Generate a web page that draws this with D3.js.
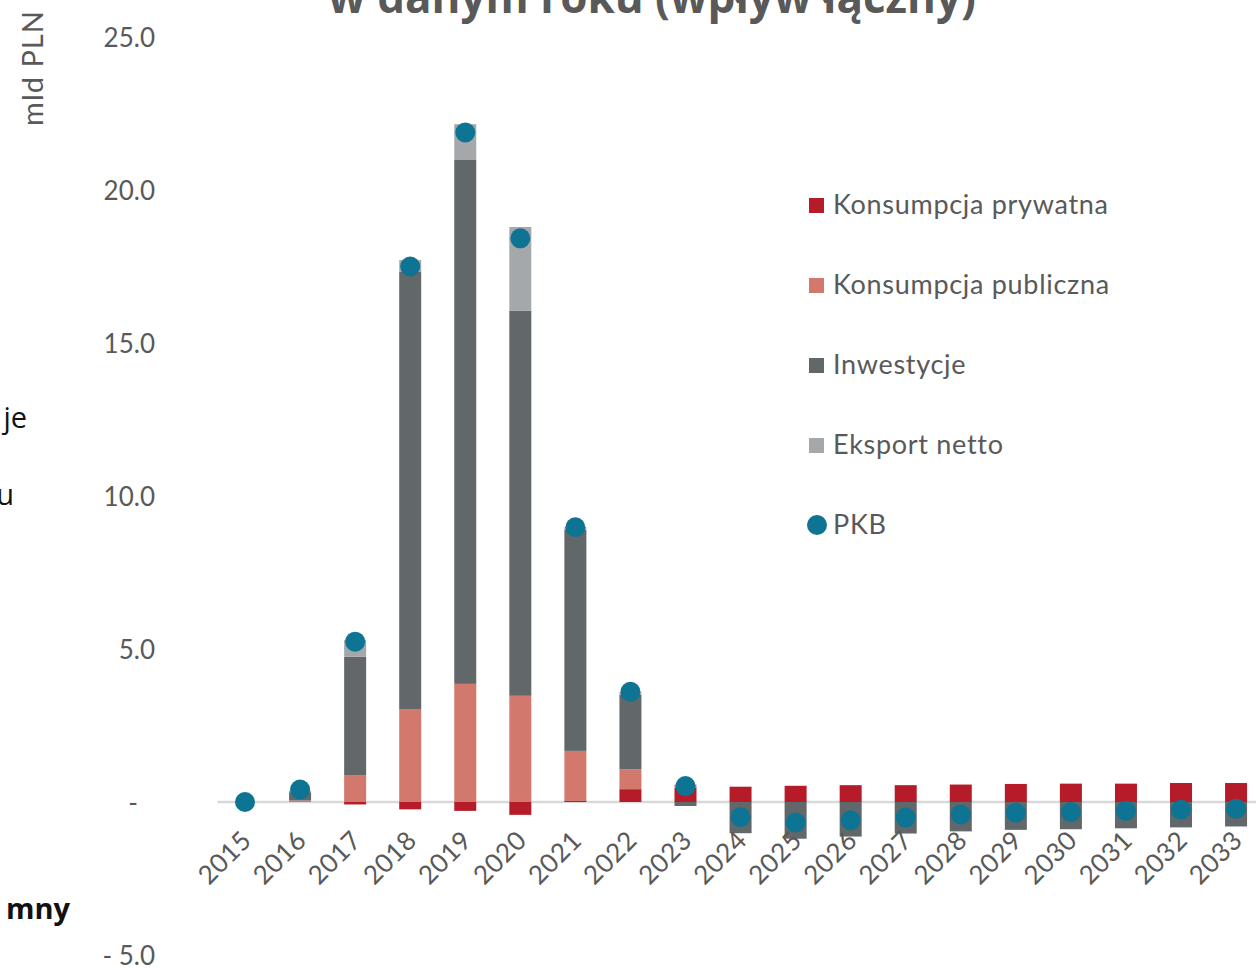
<!DOCTYPE html>
<html>
<head>
<meta charset="utf-8">
<script src="https://cdn.jsdelivr.net/npm/d3@7"></script>
<style>
	body { margin: 0; background: #fff; }
	svg text { font-family: Lato, "Open Sans", sans-serif; }
</style>
</head>
<body>
<div id="chart"></div>
<script>
// dane (mld PLN)
const years     = ["2015","2016","2017","2018","2019","2020","2021","2022","2023","2024","2025","2026","2027","2028","2029","2030","2031","2032","2033"];
const konsPryw  = [0, 0, -0.08, -0.24, -0.29, -0.42, 0.05, 0.42, 0.47, 0.50, 0.53, 0.55, 0.55, 0.57, 0.59, 0.60, 0.60, 0.62, 0.62];
const konsPubl  = [0, 0.05, 0.88, 3.04, 3.86, 3.47, 1.62, 0.65, 0.10, 0, 0, 0, 0, 0, 0, 0, 0, 0, 0];
const inwest    = [0, 0.27, 3.87, 14.28, 17.12, 12.58, 7.23, 2.44, -0.13, -1.02, -1.20, -1.13, -1.03, -0.96, -0.91, -0.89, -0.86, -0.83, -0.80];
const eksport   = [0, 0.05, 0.55, 0.39, 1.17, 2.74, 0.08, 0.08, 0, 0, 0, 0, 0, 0, 0, 0, 0, 0, 0];
const pkb       = [0, 0.41, 5.24, 17.50, 21.88, 18.42, 8.98, 3.60, 0.52, -0.50, -0.67, -0.60, -0.51, -0.41, -0.35, -0.33, -0.29, -0.25, -0.22];
const yTicks    = [-5, 0, 5, 10, 15, 20, 25];

const seriesNames = ["Konsumpcja prywatna", "Konsumpcja publiczna", "Inwestycje", "Eksport netto"];
const palette = {
	"Konsumpcja prywatna": "#b51b29",
	"Konsumpcja publiczna": "#d3786c",
	"Inwestycje": "#626769",
	"Eksport netto": "#a5a8ab",
	"PKB": "#0e7493"
};

let canvasWidth = 1256, canvasHeight = 968;

let svg = d3.select("#chart").append("svg")
	.attr("width", canvasWidth)
	.attr("height", canvasHeight);

let table = years.map((yr, i) => ({
	year: yr,
	"Konsumpcja prywatna": konsPryw[i],
	"Konsumpcja publiczna": konsPubl[i],
	"Inwestycje": inwest[i],
	"Eksport netto": eksport[i],
	pkb: pkb[i]
}));

let x = d3.scaleBand().domain(years).range([217.5, 1263.6]).padding(0);
let y = d3.scaleLinear().domain([-5, 25]).range([955, 37]);
let barW = 22;

// tytuł (ucięty u góry)
svg.append("text")
	.attr("x", 652).attr("y", 13)
	.attr("text-anchor", "middle")
	.attr("font-size", 44).attr("font-weight", "bold")
	.attr("fill", "#595959")
	.style("font-family", "'Open Sans', sans-serif")
	.text("w danym roku (wpływ łączny)");

// ucięty tekst z lewej strony
svg.append("text").attr("x", 27).attr("y", 428).attr("text-anchor", "end")
	.attr("font-size", 29).attr("fill", "#111").style("font-family", "'Open Sans', sans-serif").text("je");
svg.append("text").attr("x", 14).attr("y", 505).attr("text-anchor", "end")
	.attr("font-size", 29).attr("fill", "#111").style("font-family", "'Open Sans', sans-serif").text("u");
svg.append("text").attr("x", 70).attr("y", 919).attr("text-anchor", "end")
	.attr("font-size", 29).attr("font-weight", "bold").attr("fill", "#111").style("font-family", "'Open Sans', sans-serif").text("mny");

// etykieta osi Y
svg.append("text")
	.attr("transform", "translate(43,68) rotate(-90)")
	.attr("text-anchor", "middle")
	.attr("font-size", 29).attr("fill", "#595959")
	.style("letter-spacing", "1px")
	.text("mld PLN");

// oś Y (tylko etykiety)
let fmt = (v) => v === 0 ? "-" : (v < 0 ? "- " + d3.format(".1f")(-v) : d3.format(".1f")(v));
let yAxis = svg.append("g")
	.attr("transform", "translate(155,0)")
	.call(d3.axisLeft(y).tickValues(yTicks).tickFormat(fmt).tickSize(0).tickPadding(0));
yAxis.select(".domain").remove();
yAxis.selectAll(".tick text")
	.attr("font-size", 26).attr("fill", "#595959")
	.style("font-family", "Lato, sans-serif")
	.attr("dy", "0.35em");
yAxis.selectAll(".tick").filter((d) => d === 0).select("text").attr("x", -17);

// linia zera
svg.append("line")
	.attr("x1", 217.5).attr("x2", canvasWidth)
	.attr("y1", y(0)).attr("y2", y(0))
	.attr("stroke", "#d9d9d9").attr("stroke-width", 2.5);

// słupki skumulowane
let stack = d3.stack().keys(seriesNames).offset(d3.stackOffsetDiverging);
let stacked = stack(table);

svg.append("g").attr("class", "bars")
	.selectAll("g").data(stacked).enter().append("g")
	.attr("fill", (s) => palette[s.key])
	.selectAll("rect").data((s) => s).enter().append("rect")
	.attr("x", (d) => x(d.data.year) + x.bandwidth() / 2 - barW / 2)
	.attr("width", barW)
	.attr("y", (d) => y(Math.max(d[0], d[1])))
	.attr("height", (d) => Math.abs(y(d[0]) - y(d[1])));

// PKB
svg.append("g").attr("class", "pkb")
	.selectAll("circle").data(table).enter().append("circle")
	.attr("cx", (d) => x(d.year) + x.bandwidth() / 2)
	.attr("cy", (d) => y(d.pkb))
	.attr("r", 10)
	.attr("fill", palette["PKB"]);

// oś X
let xAxis = svg.append("g")
	.attr("transform", "translate(0," + y(0) + ")")
	.call(d3.axisBottom(x).tickSize(0).tickPadding(0));
xAxis.select(".domain").remove();
xAxis.selectAll(".tick text")
	.attr("font-size", 26).attr("fill", "#595959")
	.style("font-family", "Lato, sans-serif")
	.style("letter-spacing", "0.5px")
	.attr("text-anchor", "end")
	.attr("dy", 0).attr("y", 0)
	.attr("transform", "translate(8,40) rotate(-45)");

// legenda
let legendItems = seriesNames.concat(["PKB"]);
let legend = svg.append("g").attr("class", "legend")
	.selectAll("g").data(legendItems).enter().append("g")
	.attr("transform", (d, i) => "translate(809," + (205 + i * 80) + ")");

legend.filter((d) => d !== "PKB").append("rect")
	.attr("x", 0).attr("y", -7).attr("width", 15).attr("height", 15)
	.attr("fill", (d) => palette[d]);
legend.filter((d) => d === "PKB").append("circle")
	.attr("cx", 8).attr("cy", 0).attr("r", 10)
	.attr("fill", palette["PKB"]);
legend.append("text")
	.attr("x", 24).attr("y", 0).attr("dy", "0.35em")
	.attr("font-size", 27).attr("fill", "#595959")
	.style("letter-spacing", "0.7px")
	.text((d) => d);
</script>
</body>
</html>
